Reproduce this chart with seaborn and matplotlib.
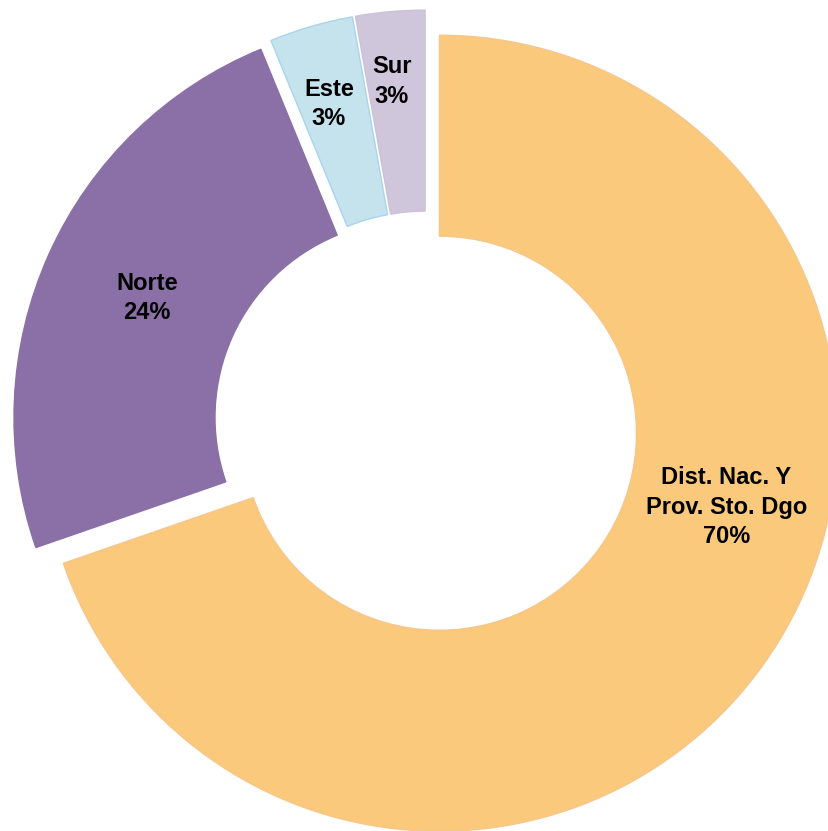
import numpy as np
import matplotlib
matplotlib.use("Agg")
import matplotlib.pyplot as plt
import seaborn as sns

# Distribution by region (percent of total)
regions = ["Dist. Nac. Y\nProv. Sto. Dgo", "Norte", "Este", "Sur"]
shares = [69.7, 24.1, 3.4, 2.8]

fill_colors = ["#FAC97B", "#8A70A6", "#C4E3EC", "#D0C6DC"]
edge_colors = ["#F7C68C", "#8A70A6", "#A8D4F0", "#CBC1D9"]

sns.set_style("white")
plt.rcParams["font.family"] = ["Liberation Sans", "DejaVu Sans"]
palette = sns.color_palette(fill_colors)

fig = plt.figure(figsize=(8.29, 8.31), dpi=100)
ax = fig.add_axes([0, 0, 1, 1])

wedges, _ = ax.pie(
    shares,
    colors=palette,
    startangle=90,
    counterclock=False,
    explode=[0.04] * len(shares),
    radius=1.0,
    wedgeprops=dict(width=0.505, linewidth=1.0),
)
for w, ec in zip(wedges, edge_colors):
    w.set_edgecolor(ec)

# label placement: fraction of radius and angular nudge per slice
label_r = [0.745, 0.73, 0.80, 0.825]
label_dtheta = [21.0, 0.0, 0.8, 0.8]

for w, name, val, rr, dt in zip(wedges, regions, shares, label_r, label_dtheta):
    mid = np.deg2rad((w.theta1 + w.theta2) / 2 + dt)
    cx, cy = w.center
    ax.text(
        cx + rr * np.cos(mid),
        cy + rr * np.sin(mid),
        f"{name}\n{val:.0f}%",
        ha="center", va="center", multialignment="center",
        fontsize=17, fontweight="bold", color="black", linespacing=1.35,
    )

scale = 398.0
ax.set_xlim(-426.5 / scale, (829 - 426.5) / scale)
ax.set_ylim(-(831 - 424) / scale, 424 / scale)
ax.set_aspect("auto")
ax.axis("off")

fig.savefig("out.png", dpi=100)
